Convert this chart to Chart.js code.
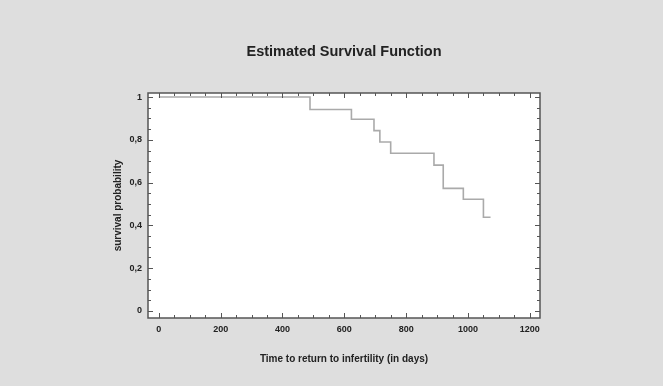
<!DOCTYPE html>
<html>
<head>
<meta charset="utf-8">
<script src="https://cdn.jsdelivr.net/npm/chart.js@4"></script>
<style>
  html, body { margin: 0; padding: 0; background: #dedede; }
  #wrap { width: 663px; height: 386px; }
</style>
</head>
<body>
<div id="wrap"><canvas id="survivalChart" width="663" height="386"></canvas></div>
<script>
// Kaplan-Meier steps
const days = [0, 489, 623, 696, 715, 750, 890, 920, 985, 1050, 1073];
const survival = [1, 0.942, 0.896, 0.843, 0.790, 0.737, 0.682, 0.573, 0.522, 0.438, 0.438];
const xTicks = [0, 200, 400, 600, 800, 1000, 1200];
const yTicks = [0, 0.2, 0.4, 0.6, 0.8, 1];

const FONT = "'Liberation Sans', Arial, sans-serif";
const AXIS_COLOR = "#555";

// frame + inward ticks on all four sides (like the original software)
const frameTicks = {
  id: "frameTicks",
  beforeDraw(chart) {
    const { ctx, chartArea: a } = chart;
    ctx.save();
    ctx.fillStyle = "#dedede";
    ctx.fillRect(0, 0, chart.width, chart.height);
    ctx.fillStyle = "#fff";
    ctx.fillRect(a.left, a.top, a.right - a.left, a.bottom - a.top);
    ctx.restore();
  },
  afterDraw(chart) {
    const { ctx, chartArea: a, scales } = chart;
    const x = scales.x, y = scales.y;
    ctx.save();
    ctx.strokeStyle = AXIS_COLOR;
    ctx.lineWidth = 1;
    ctx.beginPath();
    for (let v = 0; v <= 1200; v += 50) {
      const px = Math.round(x.getPixelForValue(v)) + 0.5;
      const len = v % 200 === 0 ? 5 : 3;
      ctx.moveTo(px, a.bottom); ctx.lineTo(px, a.bottom - len);
      ctx.moveTo(px, a.top); ctx.lineTo(px, a.top + len);
    }
    for (let i = 0; i <= 20; i++) {
      const v = i * 0.05;
      const py = Math.round(y.getPixelForValue(v)) + 0.5;
      const len = i % 4 === 0 ? 5 : 3;
      ctx.moveTo(a.left, py); ctx.lineTo(a.left + len, py);
      ctx.moveTo(a.right, py); ctx.lineTo(a.right - len, py);
    }
    ctx.stroke();
    ctx.lineWidth = 1.5;
    ctx.strokeRect(a.left, a.top, a.right - a.left, a.bottom - a.top);
    ctx.restore();
  }
};

new Chart(document.getElementById("survivalChart"), {
  type: "line",
  data: {
    datasets: [{
      data: days.map((d, i) => ({ x: d, y: survival[i] })),
      stepped: true,
      borderColor: "#aaaaaa",
      borderWidth: 1.6,
      pointRadius: 0,
      fill: false
    }]
  },
  options: {
    responsive: false,
    animation: false,
    layout: { padding: { left: 0, right: 123, top: 0, bottom: 0 } },
    plugins: {
      legend: { display: false },
      tooltip: { enabled: false },
      title: {
        display: true,
        fullSize: false,
        text: "Estimated Survival Function",
        color: "#222",
        font: { family: FONT, size: 14.5, weight: "bold" },
        padding: { top: 43.3, bottom: 32.3 }
      }
    },
    scales: {
      x: {
        type: "linear",
        min: -35,
        max: 1233,
        afterBuildTicks: s => { s.ticks = xTicks.map(v => ({ value: v })); },
        afterFit: s => { s.height = 68; },
        grid: { display: false, drawTicks: false },
        border: { display: false },
        ticks: {
          color: "#222",
          padding: 6,
          maxRotation: 0,
          font: { family: FONT, size: 9, weight: "bold" },
          callback: v => String(v)
        },
        title: {
          display: true,
          text: "Time to return to infertility (in days)",
          color: "#222",
          font: { family: FONT, size: 10, weight: "bold" },
          padding: { top: 0, bottom: 20.5 }
        }
      },
      y: {
        type: "linear",
        min: -0.033,
        max: 1.019,
        afterBuildTicks: s => { s.ticks = yTicks.map(v => ({ value: v })); },
        afterFit: s => { s.width = 148; },
        grid: { display: false, drawTicks: false },
        border: { display: false },
        ticks: {
          color: "#222",
          padding: 6,
          font: { family: FONT, size: 9, weight: "bold" },
          callback: v => String(v).replace(".", ",")
        },
        title: {
          display: true,
          text: "survival probability",
          color: "#222",
          font: { family: FONT, size: 10, weight: "bold" },
          padding: { top: 112, bottom: 0 }
        }
      }
    }
  },
  plugins: [frameTicks]
});
</script>
</body>
</html>
